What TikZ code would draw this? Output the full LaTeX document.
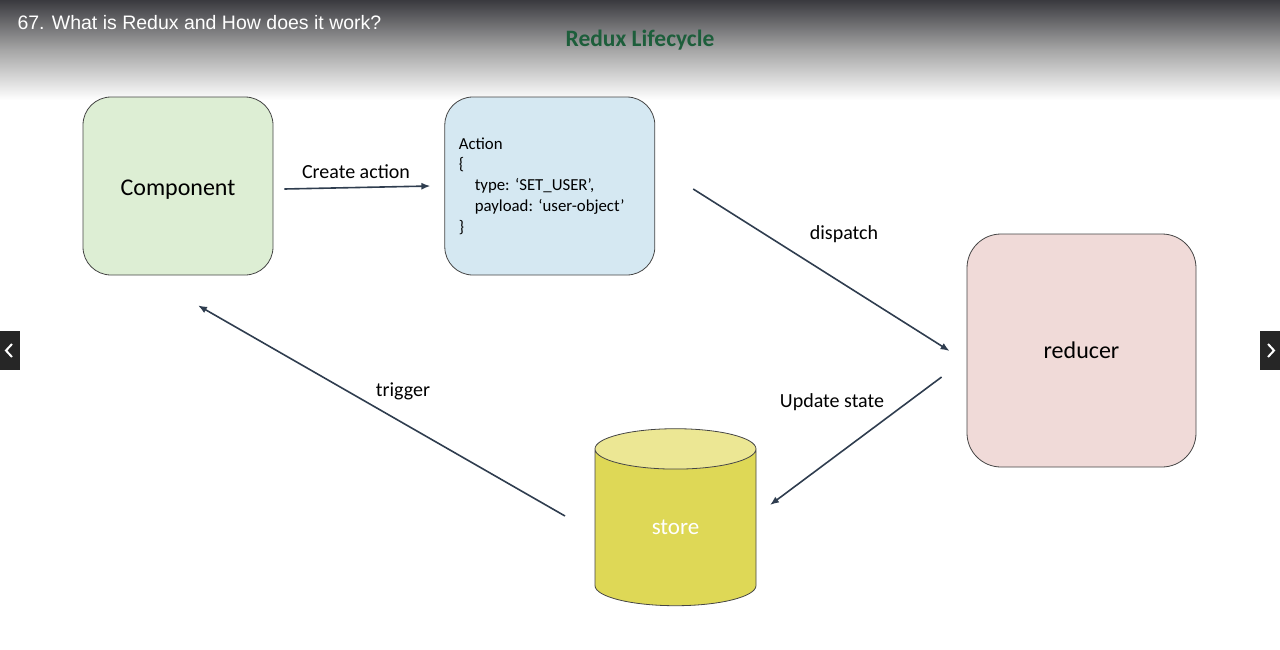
\documentclass[tikz,border=0pt]{standalone}
\usepackage{fontspec}
\setmainfont{Carlito}
\newfontfamily\headfont{Liberation Sans}
\usetikzlibrary{positioning,arrows.meta,calc,shapes.geometric}
\definecolor{compFill}{HTML}{DDEED4}
\definecolor{actFill}{HTML}{D5E8F2}
\definecolor{redFill}{HTML}{F0DAD8}
\definecolor{storeBody}{HTML}{DED856}
\definecolor{storeTop}{HTML}{ECE794}
\definecolor{edge}{HTML}{454545}
\definecolor{arrowCol}{HTML}{2F3D4F}
\definecolor{titleGreen}{HTML}{1D5E3B}
\definecolor{barTop}{HTML}{3A3A3F}

\begin{document}
\begin{tikzpicture}[x=1pt,y=-1pt,
    box/.style={rounded corners=28pt,draw=edge,line width=0.8pt,inner sep=0pt},
    flow/.style={draw=arrowCol,line width=1.6pt,-{Latex[length=9pt,width=7pt]}},
    lbl/.style={font=\fontsize{20}{24}\selectfont}]
  \useasboundingbox (0,0) rectangle (1280,649);
  % header bar
  \shade[top color=barTop,bottom color=white,middle color=black!35] (0,0) rectangle (1280,100);
  \node[anchor=west,text=white,font=\headfont\fontsize{19.5}{22}\selectfont] (head) at (14,23) {67. What is Redux and How does it work?};
  \node[text=titleGreen,font=\bfseries\fontsize{23.5}{26}\selectfont] (title) at (640,40) {Redux Lifecycle};

  % slide arrows
  \fill[black!85] (0,331) rectangle (20,370);
  \draw[white,line width=2pt] (12,344) -- (6,350.5) -- (12,357);
  \fill[black!85] (1260,331) rectangle (1280,370);
  \draw[white,line width=2pt] (1268,344) -- (1274,350.5) -- (1268,357);

  % the four stages
  \node[box,fill=compFill,minimum width=190pt,minimum height=178pt,
        font=\fontsize{24}{28}\selectfont] (comp) at (178,186) {\raisebox{-4pt}[\height][\depth]{Component}};
  \node[box,fill=actFill,right=171pt of comp,minimum height=178pt,
        text width=182pt,inner xsep=14pt,align=left,
        font=\fontsize{16.8}{20.8}\selectfont] (act) {
    Action\\
    \{\\
    \hspace*{16pt}type:\kern-3pt{} ‘SET\_USER’,\\
    \hspace*{16pt}payload:\kern-3pt{} ‘user-object’\\
    \}};
  \node[box,rounded corners=34pt,fill=redFill,minimum width=229pt,minimum height=233pt,
        font=\fontsize{24}{28}\selectfont] (red) at (1081.5,350.5) {reducer};
  \node[cylinder,shape border rotate=90,aspect=0.85,draw=edge,line width=0.8pt,
        cylinder uses custom fill,cylinder body fill=storeBody,cylinder end fill=storeTop,
        minimum width=161pt,minimum height=177pt,inner sep=0pt,text=white,
        font=\fontsize{23}{26}\selectfont] (store) at (675.5,527.5) {\raisebox{-10pt}{store}};

  % connector ends
  \coordinate (c1) at ($(comp.east)+(11,3)$);
  \coordinate (c2) at ($(act.west)+(-14,0)$);
  \coordinate (d1) at ($(act.east)+(38,3)$);
  \coordinate (d2) at ($(red.west)+(-17,0.5)$);
  \coordinate (u1) at ($(red.west)+(-25,26.5)$);
  \coordinate (u2) at ($(store.center)+(94.5,-22.5)$);
  \coordinate (t1) at ($(store.center)+(-110.5,-11.5)$);
  \coordinate (t2) at ($(comp.south)+(20,30)$);

  \draw[flow] (c1) -- (c2);
  \draw[flow] (d1) -- (d2);
  \draw[flow] (u1) -- (u2);
  \draw[flow] (t1) -- (t2);

  \node[lbl] (lblCreate) at (356,172) {Create action};
  \node[lbl] (lblDispatch) at (844,234) {dispatch};
  \node[lbl] (lblUpdate) at (832,402) {Update state};
  \node[lbl] (lblTrigger) at (403,391) {trigger};
\end{tikzpicture}
\end{document}
